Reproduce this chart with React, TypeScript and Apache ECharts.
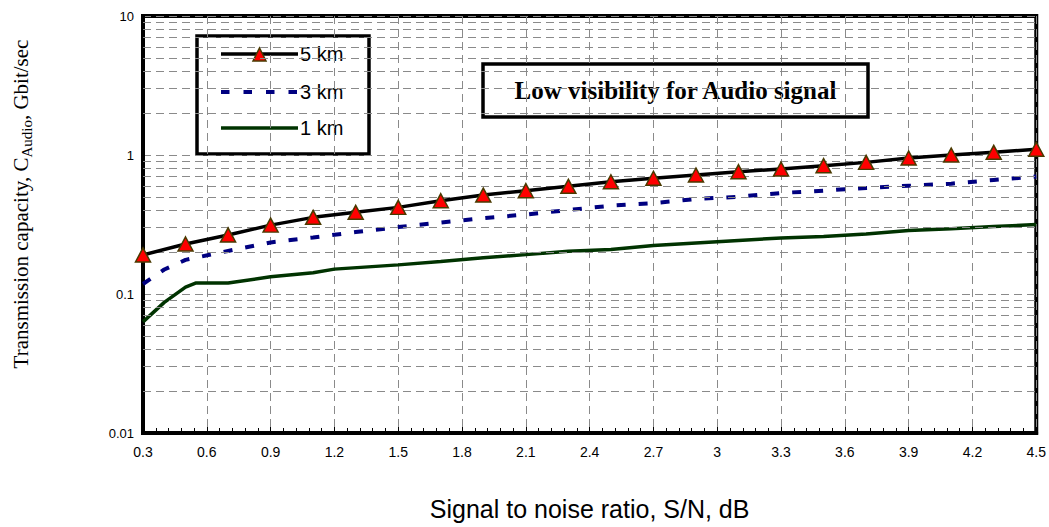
import React, { useEffect, useRef } from 'react';
import * as echarts from 'echarts';

// Signal to noise ratio (dB) and transmission capacity (Gbit/sec) per link length
const snr5km = [0.3, 0.5, 0.7, 0.9, 1.1, 1.3, 1.5, 1.7, 1.9, 2.1, 2.3, 2.5, 2.7, 2.9, 3.1, 3.3, 3.5, 3.7, 3.9, 4.1, 4.3, 4.5];
const cap5km = [0.191, 0.229, 0.266, 0.313, 0.356, 0.387, 0.42, 0.469, 0.515, 0.554, 0.595, 0.642, 0.68, 0.718, 0.758, 0.793, 0.838, 0.885, 0.951, 1.0, 1.045, 1.1];

const snr3km = [0.3, 0.4, 0.5, 0.7, 0.9, 1.1, 1.3, 1.5, 1.7, 1.9, 2.1, 2.3, 2.5, 2.7, 2.9, 3.1, 3.3, 3.5, 3.7, 3.9, 4.1, 4.3, 4.5];
const cap3km = [0.118, 0.15, 0.176, 0.204, 0.235, 0.255, 0.279, 0.303, 0.327, 0.351, 0.373, 0.402, 0.432, 0.451, 0.482, 0.501, 0.533, 0.554, 0.579, 0.601, 0.622, 0.661, 0.7];

const snr1km = [0.3, 0.4, 0.5, 0.55, 0.7, 0.9, 1.1, 1.2, 1.5, 1.7, 1.9, 2.1, 2.3, 2.5, 2.7, 2.9, 3.1, 3.3, 3.5, 3.7, 3.9, 4.1, 4.3, 4.5];
const cap1km = [0.063, 0.087, 0.112, 0.12, 0.12, 0.133, 0.142, 0.151, 0.162, 0.171, 0.182, 0.192, 0.203, 0.209, 0.223, 0.233, 0.243, 0.253, 0.259, 0.27, 0.286, 0.295, 0.306, 0.316];

// Intermediate horizontal grid lines inside each decade of the log axis
const minorGridValues = [
  0.02, 0.03, 0.04, 0.05, 0.06, 0.07, 0.08, 0.09,
  0.2, 0.3, 0.4, 0.5, 0.6, 0.7, 0.8, 0.9,
  2, 3, 4, 5, 6, 7, 8, 9,
];

const seriesNames = ['5 km', '3 km', '1 km'];
const titleText = 'Low visibility for Audio signal';

// Series styles, shared by the plotted lines and the legend keys
const COLOR_5KM = '#000000';
const COLOR_3KM = '#000080';
const COLOR_1KM = '#003300';
const MARKER_FILL = '#ff0000';
const MARKER_EDGE = '#4a3a00';
const DASH_3KM = [9, 13];

const pair = (xs: number[], ys: number[]) => xs.map((x, i) => [x, ys[i]]);

const gridDash = { color: '#8a8a8a', type: [8, 5] as number[], width: 1 };

// Legend box drawn as graphics: frame, key line (with marker for 5 km) and label
function legendGraphic() {
  const left = 197;
  const top = 36;
  const rows = [54, 92, 128];
  const x1 = 221;
  const x2 = 298;
  const children: any[] = [
    {
      type: 'rect',
      shape: { x: left, y: top, width: 172, height: 118 },
      style: { fill: '#fff', stroke: '#000', lineWidth: 3.5 },
    },
  ];
  const keyStyles = [
    { stroke: COLOR_5KM, lineWidth: 3.5 },
    { stroke: COLOR_3KM, lineWidth: 4, lineDash: [8.5, 14] },
    { stroke: COLOR_1KM, lineWidth: 3.5 },
  ];
  seriesNames.forEach((name, i) => {
    const y = rows[i];
    children.push({ type: 'line', shape: { x1, y1: y, x2, y2: y }, style: keyStyles[i] });
    children.push({
      type: 'text',
      x: 300,
      y,
      style: {
        text: name,
        align: 'left',
        verticalAlign: 'middle',
        font: '20px "Liberation Sans"',
        fill: '#000',
      },
    });
  });
  const cx = (x1 + x2) / 2;
  children.push({
    type: 'polygon',
    shape: { points: [[cx - 6.5, rows[0] + 7], [cx + 6.5, rows[0] + 7], [cx, rows[0] - 6]] },
    style: { fill: MARKER_FILL, stroke: MARKER_EDGE, lineWidth: 1.5 },
  });
  return { type: 'group', z: 20, children };
}

export default function App() {
  const ref = useRef<HTMLDivElement>(null);

  useEffect(() => {
    if (!ref.current) return;
    const chart = echarts.init(ref.current, null, { renderer: 'svg' });
    chart.setOption({
      animation: false,
      backgroundColor: '#ffffff',
      grid: {
        left: 143,
        right: 10,
        top: 16,
        bottom: 94,
        show: true,
        borderColor: '#000',
        borderWidth: 4,
        backgroundColor: 'transparent',
      },
      xAxis: {
        type: 'value',
        min: 0.3,
        max: 4.5,
        interval: 0.3,
        name: 'Signal to noise ratio, S/N, dB',
        nameLocation: 'middle',
        nameGap: 63,
        nameTextStyle: { fontFamily: 'Liberation Sans', fontSize: 25, color: '#000' },
        axisLine: { show: true, onZero: false, lineStyle: { color: '#000', width: 4 } },
        axisTick: { show: true, inside: true, length: 6, lineStyle: { color: '#000', width: 1 } },
        minorTick: { show: true, splitNumber: 5, length: 5, lineStyle: { color: '#000', width: 1 } },
        axisLabel: {
          margin: 12,
          fontFamily: 'Liberation Sans',
          fontSize: 14,
          color: '#000',
          formatter: (v: number) => String(+v.toFixed(1)),
        },
        splitLine: { show: true, lineStyle: gridDash },
      },
      yAxis: {
        type: 'log',
        logBase: 10,
        min: 0.01,
        max: 10,
        axisLine: { show: true, lineStyle: { color: '#000', width: 4 } },
        axisTick: { show: false },
        axisLabel: { margin: 9, fontFamily: 'Liberation Sans', fontSize: 13, color: '#000' },
        splitLine: { show: true, lineStyle: gridDash },
      },
      series: [
        {
          type: 'line',
          data: [],
          silent: true,
          z: 1,
          markLine: {
            silent: true,
            symbol: 'none',
            animation: false,
            label: { show: false },
            lineStyle: gridDash,
            emphasis: { disabled: true },
            data: minorGridValues.map((v) => ({ yAxis: v })),
          },
        },
        {
          name: '1 km',
          type: 'line',
          data: pair(snr1km, cap1km),
          symbol: 'none',
          lineStyle: { color: COLOR_1KM, width: 3.5 },
          itemStyle: { color: COLOR_1KM },
          z: 3,
        },
        {
          name: '3 km',
          type: 'line',
          data: pair(snr3km, cap3km),
          symbol: 'none',
          lineStyle: { color: COLOR_3KM, width: 4, type: DASH_3KM, cap: 'butt' },
          itemStyle: { color: COLOR_3KM },
          z: 4,
        },
        {
          name: '5 km',
          type: 'line',
          data: pair(snr5km, cap5km),
          symbol: 'triangle',
          symbolSize: [15, 14],
          lineStyle: { color: COLOR_5KM, width: 3.5 },
          itemStyle: { color: MARKER_FILL, borderColor: MARKER_EDGE, borderWidth: 1.5 },
          z: 5,
        },
      ],
      graphic: [
        legendGraphic(),
        {
          type: 'group',
          z: 20,
          children: [
            {
              type: 'rect',
              shape: { x: 483, y: 64, width: 385, height: 53 },
              style: { fill: '#fff', stroke: '#000', lineWidth: 3.5 },
            },
            {
              type: 'text',
              x: 675.5,
              y: 90,
              style: {
                text: titleText,
                align: 'center',
                verticalAlign: 'middle',
                font: 'bold 25px "Liberation Serif"',
                fill: '#000',
              },
            },
          ],
        },
        {
          type: 'text',
          x: 21,
          y: 204,
          rotation: Math.PI / 2,
          z: 20,
          style: {
            text: '{n|Transmission capacity, C}{s|Audio}{n|, Gbit/sec}',
            align: 'center',
            verticalAlign: 'middle',
            fill: '#000',
            rich: {
              n: { fontFamily: 'Liberation Serif', fontSize: 21, lineHeight: 27, verticalAlign: 'middle', fill: '#000' },
              s: { fontFamily: 'Liberation Serif', fontSize: 15, lineHeight: 15, verticalAlign: 'bottom', fill: '#000' },
            },
          },
        },
      ],
    });
    return () => chart.dispose();
  }, []);

  return (
    <div
      ref={ref}
      style={{ position: 'fixed', left: 0, top: 0, width: 1049, height: 527, background: '#fff' }}
    />
  );
}
